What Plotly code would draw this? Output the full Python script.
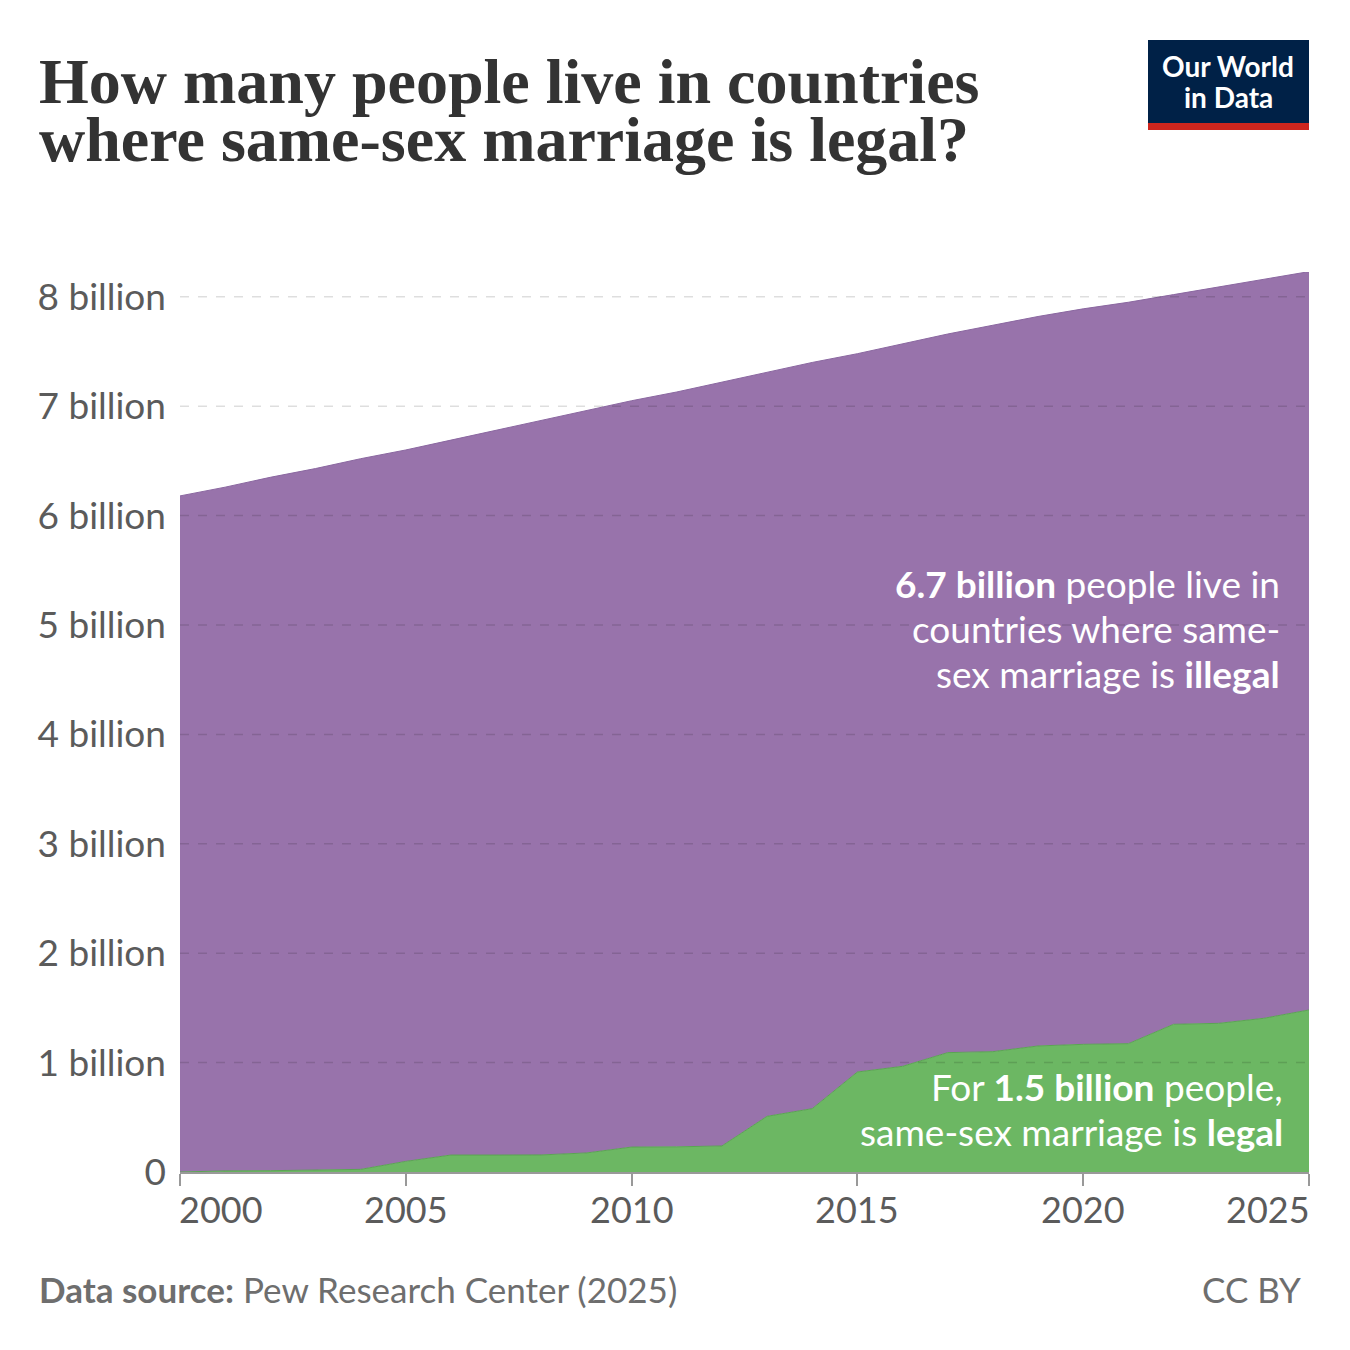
import plotly.graph_objects as go

# years and population (billions)
years = list(range(2000, 2026))
legal = [0.0, 0.01, 0.012, 0.02, 0.024, 0.097, 0.155, 0.155, 0.156, 0.174,
         0.228, 0.23, 0.238, 0.509, 0.579, 0.914, 0.966, 1.091, 1.10, 1.152,
         1.167, 1.173, 1.35, 1.359, 1.405, 1.481]
total = [6.18, 6.26, 6.35, 6.43, 6.52, 6.60, 6.69, 6.78, 6.87, 6.96,
         7.05, 7.13, 7.22, 7.31, 7.40, 7.48, 7.57, 7.66, 7.74, 7.82,
         7.89, 7.95, 8.02, 8.09, 8.16, 8.23]
illegal = [round(t - l, 3) for t, l in zip(total, legal)]

ytick_vals = [0, 1, 2, 3, 4, 5, 6, 7, 8]
ytick_text = ["0"] + ["%d billion" % v for v in ytick_vals[1:]]
xtick_vals = [2000, 2005, 2010, 2015, 2020, 2025]

title_lines = ["How many people live in countries", "where same-sex marriage is legal?"]
illegal_lines = ["<b>6.7 billion</b> people live in", "countries where same-",
                 "sex marriage is <b>illegal</b>"]
legal_lines = ["For <b>1.5 billion</b> people,", "same-sex marriage is <b>legal</b>"]

W, H = 1350, 1350
OFF = 8  # page body margin
L, R, T, B = 172, 1301, 264, 1164
YMAX = (B - T) / 109.4

GREEN = "#6cb763"
PURPLE = "#9873ab"
GREY = "#5b5b5b"


def px(x, y):
    # window pixel position -> paper coords
    return (x - OFF - L) / (R - L), (B - (y - OFF)) / (B - T)


def text_at(txt, x, y, size, xanchor="left", family="Lato", color=GREY, yref="paper", xref="paper"):
    return dict(text=txt, x=x, y=y, xanchor=xanchor, yanchor="middle", showarrow=False,
                font=dict(family=family, size=size, color=color), xref=xref, yref=yref)


fig = go.Figure()
fig.add_trace(go.Scatter(x=years, y=legal, stackgroup="one", mode="lines",
                         line=dict(color="#5aa452", width=1), fillcolor=GREEN,
                         name="Legal"))
fig.add_trace(go.Scatter(x=years, y=illegal, stackgroup="one", mode="lines",
                         line=dict(color="#8a67a0", width=1), fillcolor=PURPLE,
                         name="Illegal"))

ann = []
# title: small base font keeps the tight leading, the span sets the glyph size
x, y = px(37, 44)
t = text_at("<br>".join('<span style="font-size:64px"><b>%s</b></span>' % s for s in title_lines),
            x, y, 58 / 1.3, family="Liberation Serif", color="#333333")
t["yanchor"] = "top"
t["align"] = "left"
ann.append(t)

for i, line in enumerate(illegal_lines):
    x, y = px(1282, 597 + 45 * i - 0.37 * 37)
    ann.append(text_at(line, x, y, 37, xanchor="right", color="white"))

for i, line in enumerate(legal_lines):
    x, y = px(1285, 1100 + 45 * i - 0.37 * 37)
    ann.append(text_at(line, x, y, 37, xanchor="right", color="white"))

# x tick labels, end labels pulled inside like the original
_, ly = px(0, 1222 - 0.37 * 36)
for v in xtick_vals:
    anchor = "left" if v == xtick_vals[0] else ("right" if v == xtick_vals[-1] else "center")
    shift = -3 if anchor == "left" else (3 if anchor == "right" else 0)
    a = text_at(str(v), v, ly, 36, xanchor=anchor, xref="x")
    a["xshift"] = shift
    ann.append(a)

for i, line in enumerate(["Our World", "in Data"]):
    x, y = px(1228, 76 + 31.5 * i - 0.37 * 28)
    ann.append(text_at("<b>%s</b>" % line, x, y, 28, xanchor="center", color="white"))

x, y = px(37, 1302 - 0.37 * 35)
ann.append(text_at("<b>Data source:</b> Pew Research Center (2025)", x, y, 35, color="#6e6e6e"))
x, y = px(1303, 1302 - 0.37 * 35)
ann.append(text_at("CC BY", x, y, 35, xanchor="right", color="#6e6e6e"))

x0, y0 = px(1148, 40)
x1, y1 = px(1309, 123)
_, y2 = px(1309, 130)
shapes = [
    dict(type="rect", xref="paper", yref="paper", x0=x0, x1=x1, y0=y1, y1=y0,
         fillcolor="#002147", line_width=0),
    dict(type="rect", xref="paper", yref="paper", x0=x0, x1=x1, y0=y2, y1=y1,
         fillcolor="#ce261e", line_width=0),
]
# dashed gridlines drawn over the areas
for v in ytick_vals[1:]:
    shapes.append(dict(type="line", xref="paper", yref="y", x0=0, x1=1, y0=v, y1=v,
                       layer="above", line=dict(color="rgba(0,0,0,0.13)", width=1.5, dash="dash")))

fig.update_layout(
    width=W, height=H,
    margin=dict(l=L, r=W - R, t=T, b=H - B),
    paper_bgcolor="white", plot_bgcolor="white",
    showlegend=False,
    annotations=ann, shapes=shapes,
    font=dict(family="Lato", color=GREY),
)
fig.update_xaxes(range=[2000, 2025], tickvals=xtick_vals, showticklabels=False,
                 ticks="outside", ticklen=12,
                 tickcolor="#999999", tickwidth=1.5, showline=True, linecolor="#999999",
                 linewidth=1.5, showgrid=False, zeroline=False)
fig.update_yaxes(range=[0, YMAX], tickvals=ytick_vals, ticktext=ytick_text,
                 showgrid=False, zeroline=False, showline=False, ticks="",
                 ticklabelstandoff=13,
                 tickfont=dict(family="Lato", size=37, color=GREY))

fig.write_html("out.html")
